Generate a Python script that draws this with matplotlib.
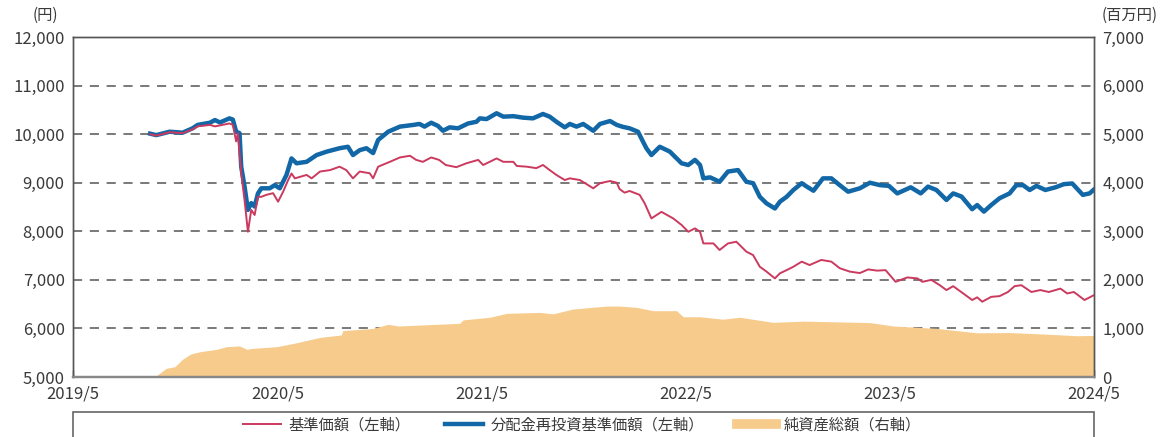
import pandas as pd
import matplotlib
matplotlib.use("Agg")
import matplotlib.pyplot as plt
from matplotlib.lines import Line2D
from matplotlib.patches import Rectangle

plt.rcParams['font.family'] = ['Noto Sans CJK JP', 'DejaVu Sans']

# 分配金再投資基準価額（左軸）
reinv_dates = ["2019-09-16", "2019-09-27", "2019-10-21", "2019-11-13", "2019-12-01", "2019-12-10",
               "2020-01-01", "2020-01-10", "2020-01-19", "2020-02-05", "2020-02-11", "2020-02-17",
               "2020-02-23", "2020-02-26", "2020-03-03", "2020-03-09", "2020-03-15", "2020-03-21",
               "2020-03-27", "2020-04-02", "2020-04-17", "2020-04-26", "2020-05-05", "2020-05-17",
               "2020-05-26", "2020-06-04", "2020-06-22", "2020-07-10", "2020-07-28", "2020-08-20",
               "2020-09-04", "2020-09-13", "2020-09-25", "2020-10-07", "2020-10-19", "2020-10-28",
               "2020-11-15", "2020-12-06", "2020-12-30", "2021-01-10", "2021-01-19", "2021-01-31",
               "2021-02-12", "2021-02-21", "2021-03-05", "2021-03-20", "2021-04-07", "2021-04-22",
               "2021-04-28", "2021-05-10", "2021-05-28", "2021-06-09", "2021-06-27", "2021-07-14",
               "2021-08-01", "2021-08-19", "2021-08-31", "2021-09-12", "2021-09-27", "2021-10-06",
               "2021-10-18", "2021-10-30", "2021-11-17", "2021-11-29", "2021-12-17", "2021-12-29",
               "2022-01-09", "2022-01-21", "2022-02-05", "2022-02-14", "2022-02-20", "2022-03-01",
               "2022-03-16", "2022-04-03", "2022-04-24", "2022-05-06", "2022-05-18", "2022-05-27",
               "2022-06-02", "2022-06-14", "2022-07-01", "2022-07-16", "2022-08-03", "2022-08-18",
               "2022-08-30", "2022-09-11", "2022-09-23", "2022-10-08", "2022-10-17", "2022-10-29",
               "2022-11-10", "2022-11-25", "2022-12-04", "2022-12-16", "2023-01-02", "2023-01-17",
               "2023-02-01", "2023-02-16", "2023-03-09", "2023-03-27", "2023-04-14", "2023-04-30",
               "2023-05-15", "2023-06-08", "2023-06-26", "2023-07-09", "2023-07-24", "2023-08-11",
               "2023-08-23", "2023-09-07", "2023-09-26", "2023-10-05", "2023-10-17", "2023-10-30",
               "2023-11-14", "2023-12-02", "2023-12-14", "2023-12-26", "2024-01-07", "2024-01-19",
               "2024-02-04", "2024-02-22", "2024-03-08", "2024-03-23", "2024-04-11", "2024-04-23",
               "2024-04-30"]
reinv_vals = [10010, 9980, 10050, 10030, 10120, 10190,
              10235, 10290, 10240, 10325, 10300, 10050,
              10020, 9330, 8920, 8440, 8580, 8510,
              8780, 8885, 8885, 8950, 8885, 9160,
              9500, 9400, 9430, 9570, 9640, 9710,
              9740, 9570, 9670, 9710, 9610, 9880,
              10050, 10155, 10190, 10210, 10155, 10235,
              10170, 10070, 10140, 10120, 10220, 10255,
              10325, 10310, 10430, 10360, 10370, 10340,
              10325, 10415, 10360, 10255, 10140, 10210,
              10155, 10210, 10070, 10210, 10270, 10190,
              10150, 10120, 10050, 9845, 9710, 9570,
              9740, 9640, 9400, 9365, 9470, 9365,
              9090, 9110, 9020, 9230, 9260, 9020,
              8990, 8710, 8575, 8470, 8610, 8710,
              8850, 8990, 8920, 8835, 9090, 9090,
              8950, 8815, 8885, 9000, 8950, 8935,
              8780, 8905, 8780, 8920, 8850, 8645,
              8780, 8715, 8455, 8540, 8405, 8540,
              8680, 8780, 8950, 8950, 8850, 8935,
              8850, 8905, 8970, 8985, 8750, 8780,
              8850]

# 基準価額（左軸）
nav_dates = ["2019-09-16", "2019-09-27", "2019-10-21", "2019-11-13", "2019-12-01", "2019-12-10",
             "2020-01-01", "2020-01-10", "2020-01-19", "2020-02-05", "2020-02-11", "2020-02-17",
             "2020-02-20", "2020-02-26", "2020-03-03", "2020-03-09", "2020-03-15", "2020-03-21",
             "2020-03-27", "2020-04-02", "2020-04-11", "2020-04-23", "2020-05-02", "2020-05-11",
             "2020-05-20", "2020-05-26", "2020-06-01", "2020-06-22", "2020-07-01", "2020-07-16",
             "2020-08-03", "2020-08-20", "2020-09-01", "2020-09-13", "2020-09-25", "2020-10-13",
             "2020-10-19", "2020-10-28", "2020-11-18", "2020-12-06", "2020-12-24", "2021-01-04",
             "2021-01-16", "2021-01-31", "2021-02-14", "2021-02-26", "2021-03-17", "2021-04-04",
             "2021-04-25", "2021-05-04", "2021-05-28", "2021-06-09", "2021-06-27", "2021-07-03",
             "2021-07-21", "2021-08-07", "2021-08-19", "2021-08-31", "2021-09-12", "2021-09-27",
             "2021-10-06", "2021-10-24", "2021-11-17", "2021-11-29", "2021-12-17", "2021-12-29",
             "2022-01-03", "2022-01-12", "2022-01-21", "2022-02-08", "2022-02-17", "2022-03-01",
             "2022-03-19", "2022-04-09", "2022-04-24", "2022-05-06", "2022-05-18", "2022-05-27",
             "2022-06-02", "2022-06-20", "2022-07-01", "2022-07-16", "2022-07-31", "2022-08-18",
             "2022-08-30", "2022-09-11", "2022-09-23", "2022-10-08", "2022-10-17", "2022-10-29",
             "2022-11-10", "2022-11-25", "2022-12-09", "2022-12-30", "2023-01-17", "2023-02-01",
             "2023-02-19", "2023-03-09", "2023-03-24", "2023-04-09", "2023-04-24", "2023-05-12",
             "2023-06-02", "2023-06-20", "2023-06-29", "2023-07-15", "2023-07-30", "2023-08-11",
             "2023-08-23", "2023-09-10", "2023-09-26", "2023-10-05", "2023-10-14", "2023-10-30",
             "2023-11-14", "2023-11-29", "2023-12-11", "2023-12-23", "2024-01-10", "2024-01-26",
             "2024-02-10", "2024-03-02", "2024-03-14", "2024-03-26", "2024-04-14", "2024-04-30"]
nav_vals = [10000, 9970, 10040, 10020, 10100, 10160,
            10190, 10160, 10180, 10220, 10190, 9850,
            10020, 9195, 8640, 7990, 8440, 8335,
            8710, 8710, 8750, 8785, 8610, 8815,
            9055, 9190, 9090, 9160, 9090, 9230,
            9260, 9330, 9260, 9090, 9230, 9195,
            9090, 9330, 9430, 9520, 9555, 9470,
            9430, 9520, 9470, 9365, 9320, 9400,
            9470, 9365, 9500, 9430, 9430, 9345,
            9330, 9300, 9365, 9260, 9160, 9055,
            9090, 9055, 8885, 8990, 9035, 9000,
            8870, 8795, 8830, 8750, 8575, 8265,
            8400, 8265, 8130, 7990, 8060, 7990,
            7750, 7750, 7615, 7750, 7785, 7580,
            7510, 7270, 7170, 7030, 7135, 7200,
            7270, 7375, 7305, 7410, 7375, 7240,
            7170, 7140, 7215, 7190, 7200, 6960,
            7050, 7030, 6960, 7000, 6890, 6790,
            6870, 6720, 6585, 6640, 6550, 6650,
            6665, 6750, 6870, 6890, 6750, 6790,
            6750, 6820, 6720, 6750, 6585, 6680]

# 純資産総額（右軸, 百万円）
asset_dates = ["2019-09-24", "2019-10-15", "2019-10-30", "2019-11-13", "2019-11-28", "2019-12-14",
               "2020-01-13", "2020-01-31", "2020-02-23", "2020-03-07", "2020-03-18", "2020-04-30",
               "2020-06-04", "2020-07-16", "2020-08-23", "2020-08-26", "2020-10-19", "2020-11-15",
               "2020-12-03", "2021-03-23", "2021-03-29", "2021-05-16", "2021-06-15", "2021-08-13",
               "2021-09-06", "2021-10-12", "2021-12-11", "2022-01-03", "2022-02-02", "2022-03-04",
               "2022-04-15", "2022-04-27", "2022-05-27", "2022-07-07", "2022-08-06", "2022-10-05",
               "2022-11-28", "2023-01-08", "2023-03-27", "2023-05-08", "2023-07-25", "2023-10-04",
               "2023-12-02", "2024-01-31", "2024-03-31", "2024-04-30"]
asset_vals = [0, 180, 210, 365, 475, 520,
              570, 625, 640, 570, 590, 625,
              705, 815, 865, 955, 1000, 1085,
              1050, 1105, 1175, 1230, 1310, 1330,
              1300, 1400, 1460, 1460, 1435, 1365,
              1365, 1240, 1240, 1190, 1230, 1125,
              1150, 1140, 1120, 1050, 1000, 910,
              915, 885, 850, 855]

year_ticks = ["2019-05-01", "2020-05-01", "2021-05-01", "2022-05-01", "2023-05-01", "2024-05-01"]
year_labels = ["2019/5", "2020/5", "2021/5", "2022/5", "2023/5", "2024/5"]

red = "#CB3A5E"
blue = "#1267A7"
orange = "#F6CB8C"
txt = "#3A3A3A"

fig = plt.figure(figsize=(11.73, 4.37), dpi=100)
ax = fig.add_axes([73 / 1173, 1 - 377 / 437, (1094 - 73) / 1173, 340 / 437])
axl = ax.twinx()

# area on the right-axis scale
ax.fill_between(pd.to_datetime(asset_dates), 0, asset_vals, color=orange, lw=0, zorder=2)
for g in range(1000, 7000, 1000):
    ax.axhline(g, color="#555555", lw=1.1, ls=(0, (6, 5)), zorder=1)
ax.set_ylim(0, 7000)
ax.set_yticks(range(0, 7001, 1000))
ax.set_yticklabels(["0" if v == 0 else f"{v:,}" for v in range(0, 7001, 1000)])
ax.yaxis.tick_right()

axl.plot(pd.to_datetime(reinv_dates), reinv_vals, color=blue, lw=3.2, solid_joinstyle="round")
axl.plot(pd.to_datetime(nav_dates), nav_vals, color=red, lw=1.4)
axl.set_ylim(5000, 12000)
axl.set_yticks(range(5000, 12001, 1000))
axl.set_yticklabels([f"{v:,}" for v in range(5000, 12001, 1000)])
axl.yaxis.tick_left()

ax.set_xlim(pd.Timestamp("2019-05-01"), pd.Timestamp("2024-05-01"))
ax.set_xticks(pd.to_datetime(year_ticks))
ax.set_xticklabels(year_labels)

ax.tick_params(axis="x", direction="in", length=5, width=1, color="#444444",
               labelsize=12, labelcolor=txt, pad=6)
ax.tick_params(axis="y", length=0, labelsize=12, labelcolor=txt, pad=6)
axl.tick_params(axis="y", length=0, labelsize=12, labelcolor=txt, pad=6)

for a in (ax, axl):
    for s in ("top", "left", "right"):
        a.spines[s].set_color("#555555")
        a.spines[s].set_linewidth(1)
    a.spines["bottom"].set_color("#888888")
    a.spines["bottom"].set_linewidth(1.6)

fig.text(45 / 1173, 1 - 15 / 437, "(円)", ha="center", va="center", fontsize=11, color=txt)
fig.text(1130 / 1173, 1 - 15 / 437, "(百万円)", ha="center", va="center", fontsize=11, color=txt)

# legend box
fig.add_artist(Rectangle((73 / 1173, -0.1), (1094 - 73) / 1173, 0.1 + 1 - 412 / 437,
                         transform=fig.transFigure, fill=False, ec="#666666", lw=1.2))
handles = [Line2D([], [], color=red, lw=1.4),
           Line2D([], [], color=blue, lw=3.2),
           Line2D([], [], color=orange, lw=7)]
fig.legend(handles, ["基準価額（左軸）", "分配金再投資基準価額（左軸）", "純資産総額（右軸）"],
           loc="center", bbox_to_anchor=(0.496, 1 - 425 / 437), ncol=3, frameon=False,
           fontsize=11, handlelength=2.5, columnspacing=2.2, handletextpad=0.5,
           labelcolor=txt)

fig.savefig("out.png", dpi=100)
